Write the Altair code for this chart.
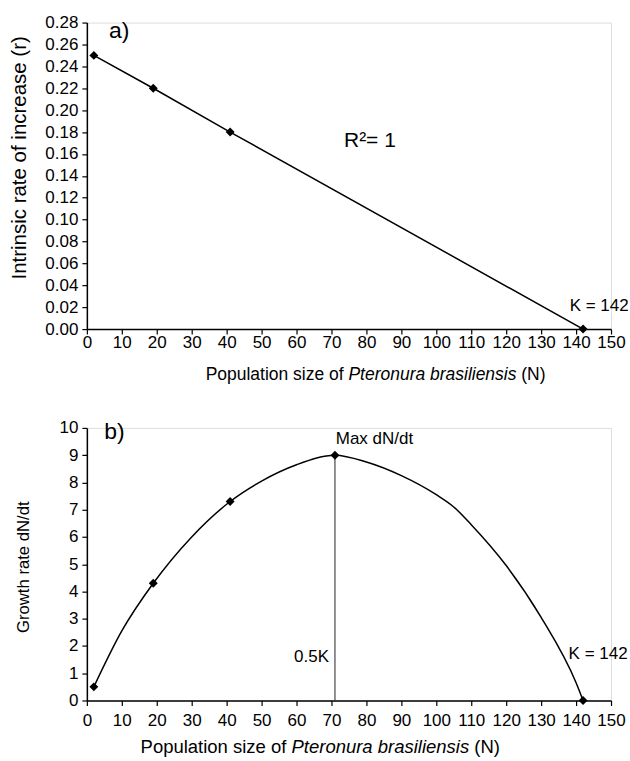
import altair as alt
import pandas as pd

FONT = "Liberation Sans"

# ---- data ----
a_N = [2, 19, 41, 142]
a_r = [0.25, 0.22, 0.18, 0.0]

b_N = [2, 19, 41, 71, 142]
b_rate = [0.5, 4.3, 7.3, 9.0, 0.0]

# points along the smoothed growth curve
curve_N = [2, 10, 19, 30, 41, 50, 60, 71, 80, 90, 100, 105, 110, 120, 130, 140, 142]
curve_rate = [0.5, 2.55, 4.3, 6.0, 7.3, 8.05, 8.65, 9.0, 8.75, 8.25, 7.55, 7.1, 6.45, 4.95, 3.05, 0.65, 0.0]

half_K_N = [71]
half_K_top = [9.0]

x_ticks = [0, 10, 20, 30, 40, 50, 60, 70, 80, 90, 100, 110, 120, 130, 140, 150]
ya_ticks = [0.00, 0.02, 0.04, 0.06, 0.08, 0.10, 0.12, 0.14, 0.16, 0.18, 0.20, 0.22, 0.24, 0.26, 0.28]
yb_ticks = [0, 1, 2, 3, 4, 5, 6, 7, 8, 9, 10]

a_labels = ["a)", "R²= 1", "K = 142"]
a_lab_N = [6.3, 81, 146.6]
a_lab_y = [0.2825, 0.172, 0.0207]

b_labels = ["b)", "Max dN/dt", "K = 142"]
b_lab_N = [5, 82.3, 146.3]
b_lab_y = [10.27, 9.58, 1.7]
half_K_label = ["0.5K"]
half_K_lab_N = [69.3]
half_K_lab_y = [1.6]

W = 525
HA = 307
HB = 273

df_a = pd.DataFrame({"N": a_N, "r": a_r})
df_b = pd.DataFrame({"N": b_N, "g": b_rate})
df_curve = pd.DataFrame({"N": curve_N, "g": curve_rate})
df_rule = pd.DataFrame({"N": half_K_N, "g": half_K_top, "zero": [0.0]})

AX_COMMON = dict(grid=False, labelFont=FONT, labelFontSize=17, labelColor="black",
                 domainColor="black", domainWidth=1.5, tickColor="black", tickWidth=1.2,
                 tickSize=5, labelOverlap=False, labelFlush=False)

xs = alt.Scale(domain=[0, 150], nice=False, zero=False)
x_axis_a = alt.Axis(values=x_ticks, title=None, labelPadding=0.5, **AX_COMMON)
x_axis_b = alt.Axis(values=x_ticks, title=None, labelPadding=7, **AX_COMMON)


def XA(field="N"):
    return alt.X(f"{field}:Q", scale=xs, axis=x_axis_a)


def XB(field="N"):
    return alt.X(f"{field}:Q", scale=xs, axis=x_axis_b)


# ---------- panel a ----------
ya_scale = alt.Scale(domain=[0, 0.28], nice=False)
ya_axis = alt.Axis(values=ya_ticks, format=".2f", title="Intrinsic rate of increase (r)",
                   titleFont=FONT, titleFontSize=20.5, titleFontWeight="normal", titleColor="black",
                   titleX=-67, titleY=135, titleBaseline="middle", titleAngle=270,
                   labelPadding=4, **AX_COMMON)


def YA(field):
    return alt.Y(f"{field}:Q", scale=ya_scale, axis=ya_axis)


base_a = alt.Chart(df_a)
line_a = base_a.mark_line(color="black", strokeWidth=1.5).encode(x=XA(), y=YA("r"))
pts_a = base_a.mark_point(shape="diamond", filled=True, color="black", size=80, opacity=1).encode(
    x=XA(), y=YA("r"))
lab_a_df = pd.DataFrame({"t": a_labels, "N": a_lab_N, "r": a_lab_y})
lab_a1 = alt.Chart(lab_a_df.iloc[[0]]).mark_text(font=FONT, fontSize=23, align="left", baseline="top", color="black").encode(
    x=XA(), y=YA("r"), text="t:N")
lab_a2 = alt.Chart(lab_a_df.iloc[[1]]).mark_text(font=FONT, fontSize=21, align="center", baseline="middle", color="black").encode(
    x=XA(), y=YA("r"), text="t:N")
lab_a3 = alt.Chart(lab_a_df.iloc[[2]]).mark_text(font=FONT, fontSize=17, align="center", baseline="middle", color="black").encode(
    x=XA(), y=YA("r"), text="t:N")


def xtitle(x_ital, y, fs):
    ital_w = 9614 * fs / 1000.0
    sp = 278 * fs / 1000.0
    t1 = alt.Chart(pd.DataFrame({"t": ["Population size of"]})).mark_text(
        font=FONT, fontSize=fs, align="right", baseline="middle", color="black").encode(
        x=alt.value(x_ital - sp), y=alt.value(y), text="t:N")
    t2 = alt.Chart(pd.DataFrame({"t": ["Pteronura brasiliensis"]})).mark_text(
        font=FONT, fontSize=fs, fontStyle="italic", align="left", baseline="middle", color="black").encode(
        x=alt.value(x_ital), y=alt.value(y), text="t:N")
    t3 = alt.Chart(pd.DataFrame({"t": ["(N)"]})).mark_text(
        font=FONT, fontSize=fs, align="left", baseline="middle", color="black").encode(
        x=alt.value(x_ital + ital_w + sp), y=alt.value(y), text="t:N")
    return [t1, t2, t3]


panel_a = alt.layer(line_a, pts_a, lab_a1, lab_a2, lab_a3, *xtitle(262, 353, 17.5)).properties(width=W, height=HA)

# ---------- panel b ----------
yb_scale = alt.Scale(domain=[0, 10], nice=False)
yb_axis = alt.Axis(values=yb_ticks, format="d", title="Growth rate dN/dt",
                   titleFont=FONT, titleFontSize=16.7, titleFontWeight="normal", titleColor="black",
                   titleX=-63, titleY=139, titleBaseline="middle", titleAngle=270,
                   labelPadding=4, **AX_COMMON)


def YB(field):
    return alt.Y(f"{field}:Q", scale=yb_scale, axis=yb_axis)


curve_b = alt.Chart(df_curve).mark_line(color="black", strokeWidth=1.5, interpolate="monotone").encode(
    x=XB(), y=YB("g"))
pts_b = alt.Chart(df_b).mark_point(shape="diamond", filled=True, color="black", size=80, opacity=1).encode(
    x=XB(), y=YB("g"))
rule_b = alt.Chart(df_rule).mark_rule(color="#222222", strokeWidth=1).encode(
    x=XB(), y=YB("g"), y2="zero:Q")
lab_b_df = pd.DataFrame({"t": b_labels, "N": b_lab_N, "g": b_lab_y})
lab_b1 = alt.Chart(lab_b_df.iloc[[0]]).mark_text(font=FONT, fontSize=23, align="left", baseline="top", color="black").encode(
    x=XB(), y=YB("g"), text="t:N")
lab_b2 = alt.Chart(lab_b_df.iloc[[1, 2]]).mark_text(font=FONT, fontSize=17, align="center", baseline="middle", color="black").encode(
    x=XB(), y=YB("g"), text="t:N")
lab_b3 = alt.Chart(pd.DataFrame({"t": half_K_label, "N": half_K_lab_N, "g": half_K_lab_y})).mark_text(
    font=FONT, fontSize=17, align="right", baseline="middle", color="black").encode(
    x=XB(), y=YB("g"), text="t:N")

panel_b = alt.layer(rule_b, curve_b, pts_b, lab_b1, lab_b2, lab_b3, *xtitle(205, 320, 18.5)).properties(width=W, height=HB)

chart = alt.vconcat(panel_a, panel_b, spacing=34).properties(
    padding={"left": 9, "top": 12, "right": 0, "bottom": 0}
).configure_view(stroke=None).configure(background="white")

chart.save("out.html", embed_options={"renderer": "svg", "actions": False})
